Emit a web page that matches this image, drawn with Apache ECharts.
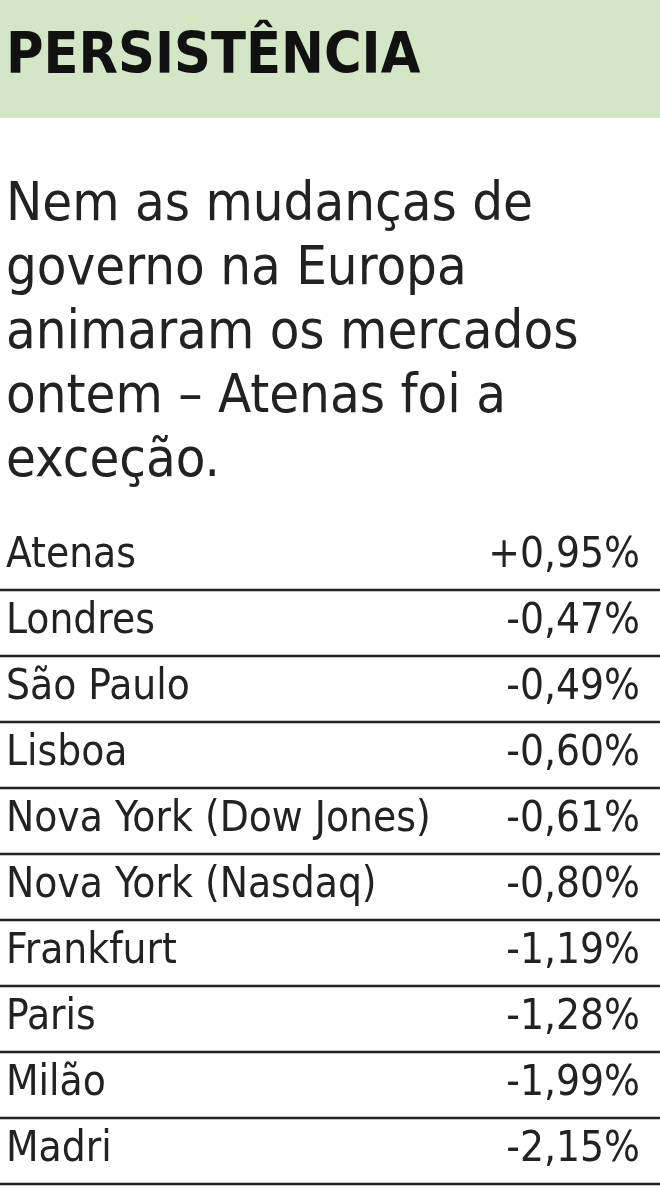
<!DOCTYPE html>
<html><head><meta charset="utf-8">
<script src="https://cdn.jsdelivr.net/npm/echarts@6/dist/echarts.min.js"></script>
<style>html,body{margin:0;padding:0;background:#fff}#c{width:660px;height:1196px}</style>
</head><body><div id="c"></div>
<script>
const title = 'PERSISTÊNCIA';
const subtitleLines = ['Nem as mudanças de','governo na Europa','animaram os mercados','ontem – Atenas foi a','exceção.'];
const categories = ['Atenas','Londres','São Paulo','Lisboa','Nova York (Dow Jones)','Nova York (Nasdaq)','Frankfurt','Paris','Milão','Madri'];
const values = ['+0,95%','-0,47%','-0,49%','-0,60%','-0,61%','-0,80%','-1,19%','-1,28%','-1,99%','-2,15%'];

const chart = echarts.init(document.getElementById('c'));
const F = '"DejaVu Sans Condensed","DejaVu Sans",sans-serif';
const g = [];
g.push({type:'rect',shape:{x:0,y:0,width:660,height:118},style:{fill:'#d3e6c6'}});
g.push({type:'text',x:6,y:58,style:{text:title,font:'bold 57px '+F,fill:'#111',textVerticalAlign:'middle'}});
subtitleLines.forEach((t,i)=>g.push({type:'text',x:6,y:206+i*64,style:{text:t,font:'54px '+F,fill:'#222',textVerticalAlign:'middle'}}));
const top0 = 524, rh = 66;
categories.forEach((c,i)=>{
  const yc = top0 + i*rh + 32;
  g.push({type:'text',x:6,y:yc,style:{text:c,font:'42px '+F,fill:'#222',textVerticalAlign:'middle'}});
  g.push({type:'text',x:640,y:yc,style:{text:values[i],font:'42px '+F,fill:'#222',textAlign:'right',textVerticalAlign:'middle'}});
  const ly = top0 + (i+1)*rh;
  g.push({type:'line',shape:{x1:0,y1:ly,x2:660,y2:ly},style:{stroke:'#222',lineWidth:2.5}});
});
chart.setOption({graphic:g});
</script></body></html>
